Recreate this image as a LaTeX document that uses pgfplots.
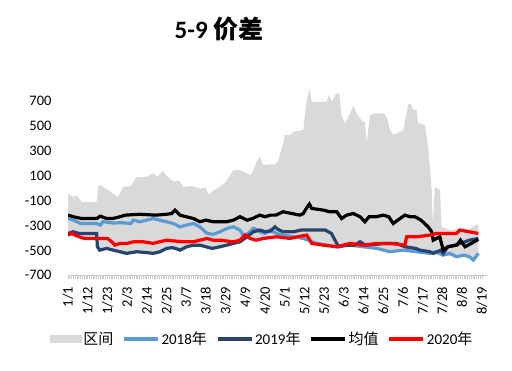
\documentclass[border=0pt]{standalone}
\usepackage{fontspec}
\setmainfont{Carlito}
\newfontfamily\cjk{Noto Sans CJK SC}
\usepackage{pgfplots}
\pgfplotsset{compat=1.18}
\definecolor{areagray}{RGB}{217,217,217}
\definecolor{c2018}{RGB}{91,155,213}
\definecolor{c2019}{RGB}{38,68,110}
\definecolor{c2020}{RGB}{255,0,0}
\begin{document}
\begin{tikzpicture}
\useasboundingbox (0,0) rectangle (512pt,371pt);
\begin{axis}[
  at={(68pt,95.7pt)}, anchor=south west,
  scale only axis, width=419.3pt, height=189.3pt,
  xmin=0, xmax=234, ymin=-700, ymax=820,
  axis x line*=bottom, axis y line*=left,
  y axis line style={draw=none},
  x axis line style={color=gray!40, line width=0.8pt},
  ytick={-700,-500,-300,-100,100,300,500,700},
  yticklabels={-700,-500,-300,-100,100,300,500,700},
  ytick style={draw=none},
  xtick={0,11,...,231},
  xticklabels={1/1,1/12,1/23,2/3,2/14,2/25,3/7,3/18,3/29,4/9,4/20,5/1,5/12,5/23,6/3,6/14,6/25,7/6,7/17,7/28,8/8,8/19},
  minor x tick num=10,
  tick align=outside,
  major tick length=4pt, minor tick length=4pt,
  xtick style={color=gray!40, line width=0.8pt},
  xticklabel style={rotate=90, anchor=east, font=\fontsize{14.5}{16}\selectfont},
  yticklabel style={font=\fontsize{14.5}{16}\selectfont},
  yticklabel shift=9pt,
  xticklabel shift=4pt,
  legend style={at={(0.463,-0.336)}, anchor=center, draw=none, legend columns=5,
    font=\fontsize{15}{16}\selectfont,
    /tikz/every even column/.append style={column sep=7pt}},
  legend image code/.code={\draw[#1] (0pt,0pt) -- (34pt,0pt);},
]
\addplot[fill=areagray, draw=none, forget plot] coordinates {
(0,-43) (3,-70) (5,-60) (7.6,-110) (16,-110) (17,20) (18,24) (21,-3) (25,-43) (28,-70)
(31,11) (35,16) (38,86) (44,91) (47.6,118) (50,90) (53,139) (55,100) (58.8,51) (62,60)
(64.4,11) (70,16) (74,-5) (77,5) (78.3,-56) (81,-20) (84.8,11) (88,50) (92.3,145) (96,145)
(99,125) (101.6,104) (103,130) (105.3,211) (107,251) (109,185) (111,190) (115.5,190) (117.4,225)
(120,359) (121,426) (124,426) (125.7,452) (131.3,466) (133.2,707) (134.7,800) (136,693)
(144.4,693) (145.6,747) (147.2,693) (149.6,760) (151.4,760) (152.7,580) (154.6,519) (157.4,600)
(159.2,660) (161.1,600) (163.9,540) (165.7,530) (166.7,359) (168.5,586) (171.3,600) (176,600)
(177.8,573) (179.7,466) (181.5,426) (187.1,466) (189.9,667) (191,680) (192.7,630) (194.5,630) (195.5,519)
(199.2,506) (201,332) (203,-16) (203.5,-282) (204.8,11) (207.6,-16) (208.5,-311)
(212,-330) (215,-340) (220,-320) (224,-330) (228,-290) (229,-300)
(229,-524) (226.2,-578) (224,-551) (216.8,-551) (209.4,-538) (202,-524) (194.5,-511)
(187,-504) (179.7,-511) (172.3,-484) (164.8,-471) (157.4,-458) (150,-471) (142.6,-458)
(138.7,-451) (136,-444) (131.3,-404) (125,-404) (120,-390) (112,-404) (110,-418) (102,-418)
(99.8,-404) (96,-431) (92.3,-444) (88.6,-465) (80.4,-484) (73.6,-465) (66.2,-471) (62.5,-498)
(58,-478) (55,-484) (51.3,-511) (47.6,-524) (44,-518) (38.3,-511) (32.7,-524) (29,-511)
(25,-498) (21.5,-490) (17.7,-498) (16.4,-471) (16,-404) (9,-404) (0,-377)
} -- cycle;
\addlegendimage{legend image code/.code={\fill[areagray] (0pt,-3.5pt) rectangle (31pt,3.5pt);}}
\addlegendentry{{\cjk 区间}}
\addplot[c2018, line width=3.2pt] coordinates {
(0,-244) (3,-257) (7,-284) (16,-284) (18,-297) (19.6,-270) (25,-280) (30,-278) (35,-284)
(36.5,-257) (40,-270) (44,-257) (47.6,-244) (51,-257) (55,-270) (58.8,-284) (62.5,-311)
(66,-297) (70,-284) (73.6,-311) (77.6,-364) (81,-371) (84.8,-351) (88.6,-324) (92.3,-311)
(96,-337) (97.8,-378) (100.6,-364) (103.4,-324) (105,-330) (107,-351) (110,-364) (112.7,-337)
(116.4,-364) (120,-378) (125.7,-391) (131.3,-404) (138.7,-444) (145,-458) (150,-471)
(157.4,-458) (164.8,-471) (172.3,-484) (179.7,-511) (187.1,-498) (194.5,-511) (202,-524)
(205,-511) (209.4,-538) (213,-524) (216.8,-551) (221,-538) (224,-551) (226.2,-578) (229,-524)
};
\addlegendentry{2018{\cjk 年}}
\addplot[c2019, line width=3.2pt] coordinates {
(0,-364) (2.8,-351) (6.3,-364) (16,-364) (16.4,-471) (17.7,-498) (21.5,-484) (25.3,-498)
(29,-511) (32.7,-524) (38.3,-511) (44,-518) (47.6,-524) (51.3,-511) (55,-484) (58,-478)
(60,-484) (62.5,-498) (66.2,-471) (70,-458) (73.6,-458) (77,-471) (80.4,-484) (84.8,-471)
(88.6,-458) (92.3,-444) (96,-431) (99.8,-391) (103.4,-351) (107,-337) (110,-350) (113,-345)
(115.5,-311) (117,-330) (120,-351) (125.7,-351) (130,-337) (135,-337) (143.6,-337) (147,-364)
(149,-418) (151,-471) (155,-458) (160,-458) (163,-431) (166,-458) (172,-451) (177,-444)
(183.4,-444) (188,-471) (194,-484) (196.4,-498) (202,-511) (204,-524) (206,-511) (208,-498)
(209.4,-524) (212,-471) (216,-458) (221.6,-431) (224,-418) (229,-404)
};
\addlegendentry{2019{\cjk 年}}
\addplot[black, line width=3.2pt] coordinates {
(0,-217) (3,-230) (7.6,-244) (16,-244) (18,-225) (21.5,-244) (25,-244) (29,-230) (32,-217)
(40,-210) (49,-217) (55,-210) (57.9,-204) (59.7,-177) (62.5,-217) (66,-230) (70,-244)
(73.6,-270) (77,-257) (81,-270) (88.6,-270) (92.3,-257) (96,-230) (100,-257) (103,-244)
(107,-217) (110,-230) (113,-217) (116,-217) (120,-190) (125,-204) (129.4,-217) (131.3,-204)
(133,-163) (134.7,-128) (136,-163) (142.6,-177) (146,-190) (150,-190) (152.7,-244) (155.5,-217)
(159.2,-204) (163,-230) (165.7,-270) (168,-230) (172,-230) (176,-217) (179,-230) (181.5,-284)
(184,-257) (188,-217) (191,-230) (193.6,-230) (197,-257) (201,-311) (203,-351) (203.8,-418)
(205.7,-404) (207.5,-391) (209.4,-498) (212,-471) (217,-458) (219,-418) (221.6,-471)
(225,-444) (229,-412)
};
\addlegendentry{{\cjk 均值}}
\addplot[c2020, line width=3.2pt] coordinates {
(0,-377) (2,-364) (4,-377) (6.3,-391) (9,-404) (16,-404) (22,-404) (24.4,-431) (26.2,-458)
(29,-444) (33,-444) (36.5,-431) (42,-431) (47.6,-444) (51,-431) (55,-418) (59,-424)
(64.4,-431) (70,-431) (73.6,-418) (77.6,-404) (81,-418) (84.8,-418) (92.3,-431) (96,-418)
(98.7,-377) (101.6,-404) (105,-418) (109,-404) (116.4,-391) (123.9,-404) (128,-391)
(133.2,-377) (135,-418) (136,-444) (142.6,-458) (150,-471) (157.4,-444) (164.8,-458)
(172.3,-444) (179.7,-444) (188,-458) (189,-391) (194.5,-391) (202,-377) (205.7,-364)
(210,-364) (216.8,-364) (218.6,-337) (224,-351) (229,-364)
};
\addlegendentry{2020{\cjk 年}}
\end{axis}
\node[font=\bfseries\fontsize{25}{30}\selectfont] at (219pt,342pt) {5-9 {\cjk 价差}};
\end{tikzpicture}
\end{document}
